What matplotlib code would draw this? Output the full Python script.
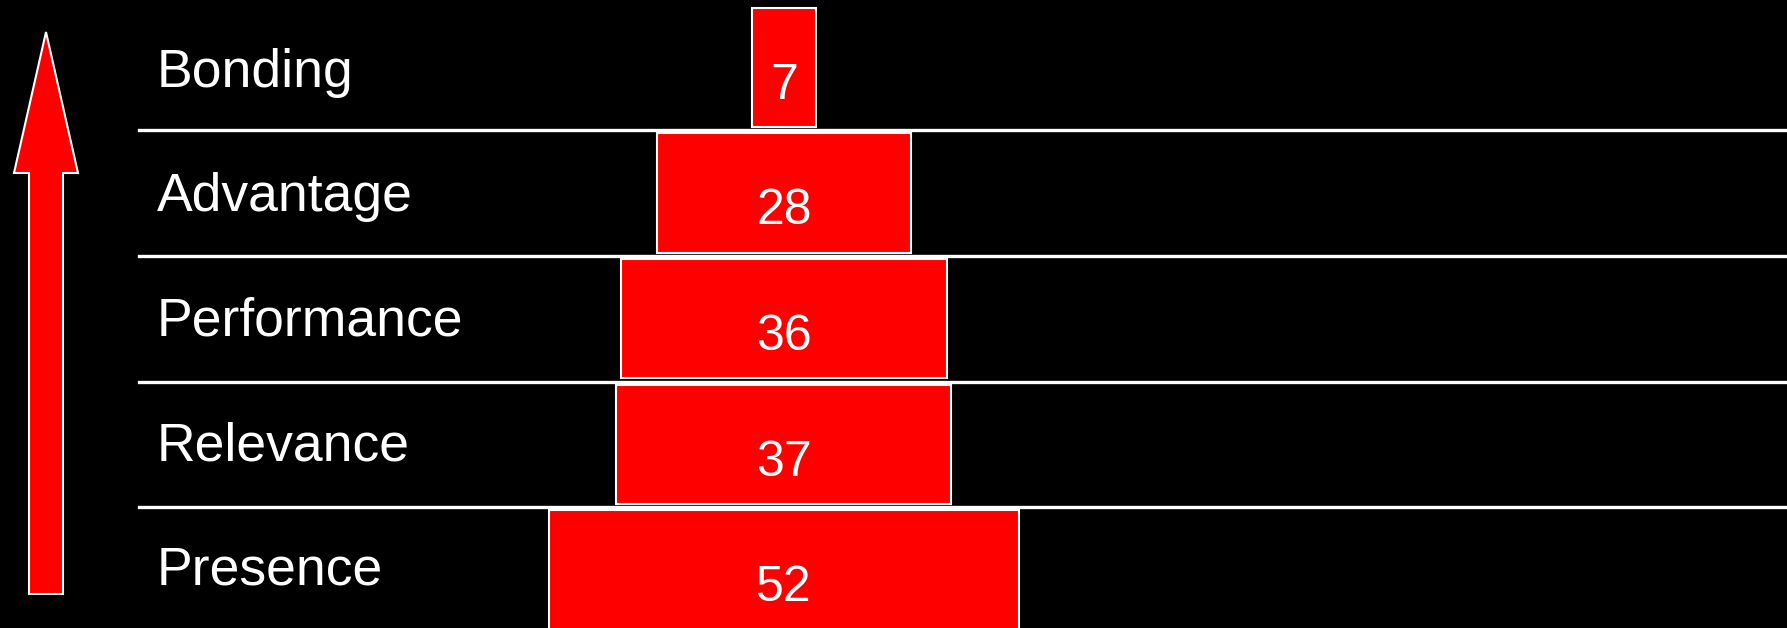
import numpy as np
import matplotlib
matplotlib.use("Agg")
import matplotlib.pyplot as plt
from matplotlib.patches import FancyArrow
import matplotlib.transforms as mtransforms

plt.rcParams['font.family'] = ['Liberation Sans', 'DejaVu Sans']

# funnel stages, bottom to top
stages = ['Presence', 'Relevance', 'Performance', 'Advantage', 'Bonding']
values = [52, 37, 36, 28, 7]

W, H = 1787, 628
fig = plt.figure(figsize=(W / 100, H / 100), dpi=100, facecolor='black')

# arrow on the left, drawn in a pixel-like frame
bg = fig.add_axes([0, 0, 1, 1], zorder=0)
bg.set_xlim(0, W)
bg.set_ylim(H, 0)
bg.axis('off')
bg.add_patch(FancyArrow(46, 594, 0, -562, width=34, head_width=64,
                        head_length=141, length_includes_head=True,
                        fc='#ff0000', ec='white', lw=1.5))

ax = fig.add_axes([0, 0, 1, 1], zorder=1)
ax.patch.set_alpha(0)
ax.set_xlim(-86.6, 110.8)
ax.set_ylim(-0.462, 4.537)
ax.axis('off')

y = np.arange(len(stages))
v = np.array(values)
ax.barh(y, v, left=-v / 2, height=0.95, color='#ff0000',
        edgecolor='white', linewidth=1.5, zorder=2)

for b in y[:-1] + 0.5:
    ax.axhline(b, xmin=139 / W, xmax=1, color='white', lw=2.4, zorder=3)

trans = mtransforms.blended_transform_factory(ax.transAxes, ax.transData)
for yi, name, val in zip(y, stages, values):
    ax.text(157 / W, yi - 0.116 - 0.009 * yi, name, transform=trans,
            color='white', fontsize=38.5, ha='left', va='baseline')
    ax.text(0, yi - 0.25, str(val), color='white', fontsize=36,
            ha='center', va='baseline', zorder=4)

fig.savefig('out.png', dpi=100, facecolor='black')
